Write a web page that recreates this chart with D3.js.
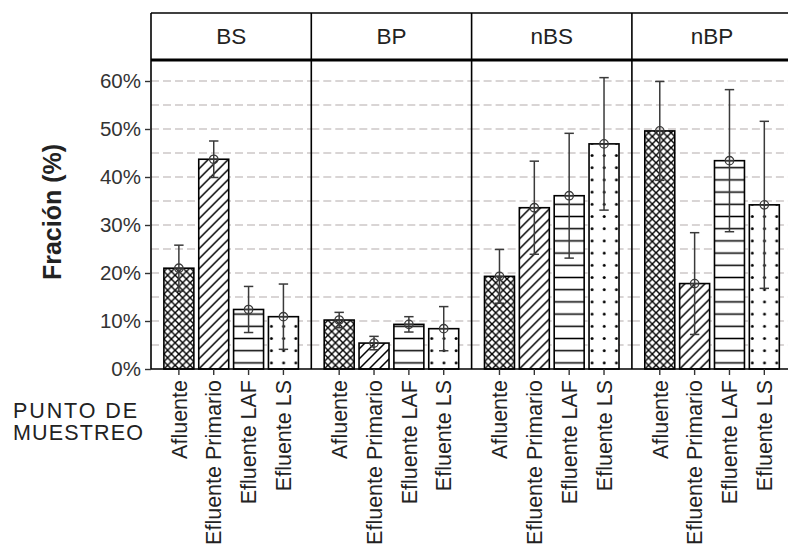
<!DOCTYPE html>
<html>
<head>
<meta charset="utf-8">
<script src="https://cdn.jsdelivr.net/npm/d3@7"></script>
<style>
    html, body { margin: 0; padding: 0; background: #fff; }
    #chart { width: 788px; height: 548px; }
</style>
</head>
<body>
<div id="chart"></div>
<script>
const panels = ["BS", "BP", "nBS", "nBP"];
const puntos = ["Afluente", "Efluente Primario", "Efluente LAF", "Efluente LS"];

// media por panel, en el orden de "puntos" (%)
const fraccionBS = [21.0, 43.7, 12.4, 10.9];
const fraccionBP = [10.2, 5.4, 9.3, 8.4];
const fraccionNBS = [19.3, 33.6, 36.1, 46.9];
const fraccionNBP = [49.6, 17.8, 43.4, 34.2];

// semiamplitud de la barra de error (%)
const errorBS = [4.8, 3.8, 4.8, 6.8];
const errorBP = [1.6, 1.4, 1.6, 4.6];
const errorNBS = [5.6, 9.7, 13.0, 13.8];
const errorNBP = [10.3, 10.6, 14.8, 17.4];

const yTicks = [0, 10, 20, 30, 40, 50, 60];
const yGrid = [5, 10, 15, 20, 25, 30, 35, 40, 45, 50, 55, 60];

function drawFraccionChart(containerSelector) {
    const fraccion = [fraccionBS, fraccionBP, fraccionNBS, fraccionNBP];
    const errores = [errorBS, errorBP, errorNBS, errorNBP];
    const data = [];
    panels.forEach((p, i) => {
        puntos.forEach((pt, j) => {
            data.push({ panel: p, punto: pt, idx: j, value: fraccion[i][j], err: errores[i][j] });
        });
    });

    const width = 788, height = 548;
    const margin = { left: 151, top: 60, stripTop: 13, bottom: 369 };
    const panelW = 160.3;
    const fontFamily = "'Liberation Sans', Arial, sans-serif";
    const textColor = "#222";
    const errColor = "#3a3a3a";

    const svg = d3.select(containerSelector).append("svg")
        .attr("width", width)
        .attr("height", height)
        .style("font-family", fontFamily);

    const defs = svg.append("defs");

    const yScale = d3.scaleLinear()
        .domain([0, 64.375])
        .range([margin.bottom, margin.top]);

    const panelScale = d3.scaleBand()
        .domain(panels)
        .range([margin.left, margin.left + panelW * panels.length]);

    const xScale = d3.scaleBand()
        .domain(puntos)
        .range([0, panelW])
        .paddingInner(0.14)
        .paddingOuter(0.37);

    // gridlines
    panels.forEach(p => {
        const x0 = panelScale(p);
        svg.append("g")
            .selectAll("line")
            .data(yGrid)
            .join("line")
            .attr("x1", x0)
            .attr("x2", x0 + panelW)
            .attr("y1", d => yScale(d))
            .attr("y2", d => yScale(d))
            .attr("stroke", "#b3abab")
            .attr("stroke-width", 1.2)
            .attr("stroke-dasharray", "8,4");
    });

    // patterns, one per bar so each starts at its bar
    function makePattern(d, id, x, yb) {
        const tile = d.idx === 0 ? 7.5 : (d.idx === 1 ? 10 : 12.2);
        const pat = defs.append("pattern")
            .attr("id", id)
            .attr("patternUnits", "userSpaceOnUse")
            .attr("x", x)
            .attr("y", yb)
            .attr("width", tile)
            .attr("height", tile);
        pat.append("rect").attr("width", tile).attr("height", tile).attr("fill", "#fff");
        if (d.idx === 0) {
            pat.append("path")
                .attr("d", `M-1,-1L${tile + 1},${tile + 1}M${tile + 1},-1L-1,${tile + 1}`)
                .attr("stroke", "#000")
                .attr("stroke-width", 1.4);
        } else if (d.idx === 1) {
            pat.append("path")
                .attr("d", `M0,${tile}L${tile},0M-2,2L2,-2M${tile - 2},${tile + 2}L${tile + 2},${tile - 2}`)
                .attr("stroke", "#000")
                .attr("stroke-width", 1.5);
        } else if (d.idx === 2) {
            pat.append("line")
                .attr("x1", 0).attr("x2", tile)
                .attr("y1", tile / 2).attr("y2", tile / 2)
                .attr("stroke", "#000")
                .attr("stroke-width", 1.5);
        } else {
            pat.append("circle")
                .attr("cx", 3).attr("cy", tile / 2)
                .attr("r", 1.5)
                .attr("fill", "#000");
        }
    }

    const bars = svg.append("g");
    data.forEach((d, i) => {
        const x = panelScale(d.panel) + xScale(d.punto);
        const id = "pat" + i;
        makePattern(d, id, x, margin.bottom);
        bars.append("rect")
            .attr("x", x)
            .attr("y", yScale(d.value))
            .attr("width", xScale.bandwidth())
            .attr("height", yScale(0) - yScale(d.value))
            .attr("fill", `url(#${id})`)
            .attr("stroke", "#000")
            .attr("stroke-width", 1.6);
    });

    // error bars + marker
    const err = svg.append("g")
        .attr("stroke", errColor)
        .attr("stroke-width", 1.5)
        .attr("fill", "none");
    data.forEach(d => {
        const cx = panelScale(d.panel) + xScale(d.punto) + xScale.bandwidth() / 2;
        const yt = yScale(d.value + d.err);
        const yb = yScale(Math.max(0, d.value - d.err));
        const yc = yScale(d.value);
        err.append("line").attr("x1", cx).attr("x2", cx).attr("y1", yt).attr("y2", yb);
        err.append("line").attr("x1", cx - 4.7).attr("x2", cx + 4.7).attr("y1", yt).attr("y2", yt);
        err.append("line").attr("x1", cx - 4.7).attr("x2", cx + 4.7).attr("y1", yb).attr("y2", yb);
        err.append("circle").attr("cx", cx).attr("cy", yc).attr("r", 4.2).attr("stroke-width", 1.3);
        err.append("line").attr("x1", cx - 4.2).attr("x2", cx + 4.2).attr("y1", yc).attr("y2", yc).attr("stroke-width", 1.2);
    });

    // panel borders, strips
    const x0 = margin.left;
    const x1 = margin.left + panelW * panels.length;
    const frame = svg.append("g").attr("stroke", "#000");
    frame.append("line").attr("x1", x0).attr("x2", x1).attr("y1", margin.stripTop).attr("y2", margin.stripTop).attr("stroke-width", 1.6);
    frame.append("line").attr("x1", x0).attr("x2", x1).attr("y1", margin.top).attr("y2", margin.top).attr("stroke-width", 3);
    frame.append("line").attr("x1", x0).attr("x2", x1).attr("y1", margin.bottom).attr("y2", margin.bottom).attr("stroke-width", 1.6);
    frame.selectAll("line.sep")
        .data(panels.concat(["end"]))
        .join("line")
        .attr("class", "sep")
        .attr("x1", (d, i) => x0 + panelW * i)
        .attr("x2", (d, i) => x0 + panelW * i)
        .attr("y1", margin.stripTop)
        .attr("y2", margin.bottom)
        .attr("stroke-width", 1.6);

    svg.append("g")
        .selectAll("text")
        .data(panels)
        .join("text")
        .attr("x", d => panelScale(d) + panelW / 2)
        .attr("y", 44)
        .attr("text-anchor", "middle")
        .attr("font-size", 22.5)
        .attr("fill", textColor)
        .text(d => d);

    // y axis
    svg.append("g")
        .attr("transform", `translate(${margin.left},0)`)
        .call(d3.axisLeft(yScale).tickValues(yTicks).tickSize(6).tickPadding(4).tickFormat(d => d + "%"))
        .call(g => g.select(".domain").remove())
        .call(g => g.selectAll("line").attr("stroke", "#333").attr("stroke-width", 1.4))
        .call(g => g.selectAll("text")
            .attr("font-size", 20.5)
            .attr("font-family", fontFamily)
            .attr("fill", "#333"));

    // x axis per panel
    panels.forEach(p => {
        svg.append("g")
            .attr("transform", `translate(${panelScale(p)},${margin.bottom})`)
            .call(d3.axisBottom(xScale).tickSize(6).tickSizeOuter(0))
            .call(g => g.select(".domain").remove())
            .call(g => g.selectAll("line").attr("stroke", "#333").attr("stroke-width", 1.4))
            .call(g => g.selectAll("text")
                .attr("font-size", 21.5)
                .attr("font-family", fontFamily)
                .attr("fill", textColor)
                .attr("text-anchor", "end")
                .attr("transform", "rotate(-90)")
                .attr("x", -11)
                .attr("y", 0)
                .attr("dy", "0.36em"));
    });

    svg.append("text")
        .attr("transform", `translate(61,212) rotate(-90)`)
        .attr("text-anchor", "middle")
        .attr("font-size", 25)
        .attr("font-weight", "bold")
        .attr("fill", textColor)
        .text("Fración (%)");

    svg.append("text")
        .attr("x", 13).attr("y", 418)
        .attr("font-size", 21.5)
        .attr("fill", textColor)
        .attr("textLength", 124)
        .attr("lengthAdjust", "spacing")
        .text("PUNTO  DE");
    svg.append("text")
        .attr("x", 13).attr("y", 440)
        .attr("font-size", 21.5)
        .attr("fill", textColor)
        .attr("textLength", 130)
        .attr("lengthAdjust", "spacing")
        .text("MUESTREO");
}

drawFraccionChart("#chart");
</script>
</body>
</html>
